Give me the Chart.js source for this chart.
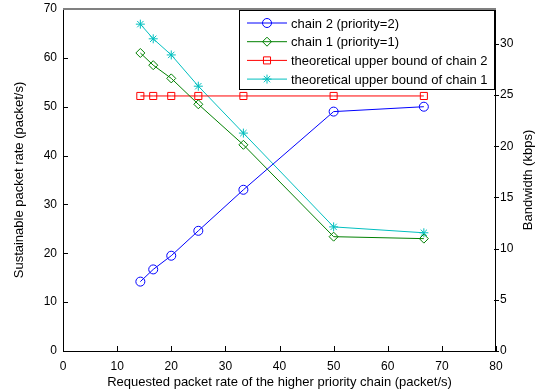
<!DOCTYPE html>
<html>
<head>
<meta charset="utf-8">
<script src="https://cdn.jsdelivr.net/npm/chart.js@4.4.1/dist/chart.umd.min.js"></script>
<style>
  body { margin: 0; background: #fff; }
  canvas { display: block; }
</style>
</head>
<body>
<canvas id="rateChart" width="541" height="391"></canvas>
<script>
// Data
const requestedRate = [14.29, 16.67, 20, 25, 33.33, 50, 66.67];
const chain2Rate = [14.2, 16.7, 19.5, 24.6, 33.0, 49.0, 50.0];
const chain1Rate = [61.0, 58.5, 55.8, 50.5, 42.2, 23.4, 23.0];
const bound2Rate = [52.2, 52.2, 52.2, 52.2, 52.2, 52.2, 52.2];
const bound1Rate = [66.9, 63.9, 60.6, 54.2, 44.6, 25.4, 24.2];

const seriesLabels = ['chain 2 (priority=2)', 'chain 1 (priority=1)',
  'theoretical upper bound of chain 2', 'theoretical upper bound of chain 1'];
const xTitle = 'Requested packet rate of the higher priority chain (packet/s)';
const yTitle = 'Sustainable packet rate (packet/s)';
const y1Title = 'Bandwidth (kbps)';

const colors = ['#0000ff', '#008000', '#ff0000', '#00bfbf'];
const markers = ['circle', 'rectRot', 'rect', 'star'];
const radii = [4.5, 4.5, 5, 4.5];

function pts(ys) {
  return requestedRate.map((x, i) => ({ x: x, y: ys[i] }));
}

Chart.defaults.font.family = '"Liberation Sans", Arial, sans-serif';
Chart.defaults.font.size = 12;
Chart.defaults.color = '#000';

function drawMarker(ctx, style, x, y, r) {
  ctx.beginPath();
  if (style === 'circle') {
    ctx.arc(x, y, r, 0, Math.PI * 2);
  } else if (style === 'rectRot') {
    ctx.moveTo(x, y - r); ctx.lineTo(x + r, y); ctx.lineTo(x, y + r); ctx.lineTo(x - r, y); ctx.closePath();
  } else if (style === 'rect') {
    const s = r * Math.SQRT1_2;
    ctx.rect(x - s, y - s, 2 * s, 2 * s);
  } else {
    const d = r * Math.SQRT1_2;
    ctx.moveTo(x - r, y); ctx.lineTo(x + r, y);
    ctx.moveTo(x, y - r); ctx.lineTo(x, y + r);
    ctx.moveTo(x - d, y - d); ctx.lineTo(x + d, y + d);
    ctx.moveTo(x - d, y + d); ctx.lineTo(x + d, y - d);
  }
  ctx.stroke();
}

// frame, inward ticks, boxed legend, right-hand title
const matlabLook = {
  id: 'matlabLook',
  afterDraw(chart) {
    const ctx = chart.ctx;
    const a = chart.chartArea;
    const sx = chart.scales.x, sy = chart.scales.y, sy1 = chart.scales.y1;
    ctx.save();
    ctx.lineWidth = 1;
    ctx.strokeStyle = '#000';
    ctx.beginPath();
    ctx.moveTo(a.left + 0.5, a.top); ctx.lineTo(a.left + 0.5, a.bottom + 0.5);
    ctx.lineTo(a.right - 0.5, a.bottom + 0.5); ctx.lineTo(a.right - 0.5, a.top);
    sx.ticks.forEach(t => {
      const px = Math.round(sx.getPixelForValue(t.value)) + 0.5;
      ctx.moveTo(px, a.bottom); ctx.lineTo(px, a.bottom - 5);
    });
    sy.ticks.forEach(t => {
      const py = Math.round(sy.getPixelForValue(t.value)) + 0.5;
      ctx.moveTo(a.left, py); ctx.lineTo(a.left + 5, py);
    });
    sy1.ticks.forEach(t => {
      const py = Math.round(sy1.getPixelForValue(t.value)) + 0.5;
      ctx.moveTo(a.right - 2, py); ctx.lineTo(a.right + 3, py);
    });
    ctx.stroke();
    ctx.strokeStyle = '#808080';
    ctx.lineWidth = 2;
    ctx.beginPath();
    ctx.moveTo(a.left, a.top); ctx.lineTo(a.right, a.top);
    ctx.stroke();

    // legend
    const bx = 239.5, by = 10.5, bw = 255, bh = 79;
    ctx.fillStyle = '#fff';
    ctx.fillRect(bx, by, bw, bh);
    ctx.strokeStyle = '#000';
    ctx.lineWidth = 1;
    ctx.strokeRect(bx, by, bw, bh);
    ctx.font = '13px "Liberation Sans", Arial, sans-serif';
    ctx.textBaseline = 'middle';
    ctx.textAlign = 'left';
    chart.data.datasets.forEach((ds, i) => {
      const ry = 23 + i * 18.7;
      ctx.strokeStyle = ds.borderColor;
      ctx.lineWidth = 1;
      ctx.beginPath();
      ctx.moveTo(247, ry); ctx.lineTo(287, ry);
      ctx.stroke();
      drawMarker(ctx, ds.pointStyle, 267, ry, ds.pointRadius);
      ctx.fillStyle = '#000';
      ctx.fillText(ds.label, 291, ry + 1);
    });

    // right axis title, reads bottom to top
    ctx.translate(528, (a.top + a.bottom) / 2);
    ctx.rotate(-Math.PI / 2);
    ctx.textAlign = 'center';
    ctx.fillStyle = '#000';
    ctx.fillText(y1Title, 0, 0);
    ctx.restore();
  }
};

const rateCtx = document.getElementById('rateChart').getContext('2d');
const series = [chain2Rate, chain1Rate, bound2Rate, bound1Rate];

const rateChart = new Chart(rateCtx, {
  type: 'line',
  data: {
    datasets: series.map((ys, i) => ({
      label: seriesLabels[i],
      data: pts(ys),
      borderColor: colors[i],
      backgroundColor: 'rgba(0,0,0,0)',
      borderWidth: 1,
      pointStyle: markers[i],
      pointRadius: radii[i],
      pointBorderWidth: 1,
      pointBackgroundColor: 'rgba(0,0,0,0)',
      tension: 0,
      fill: false
    }))
  },
  options: {
    responsive: false,
    animation: false,
    layout: { padding: { top: 9, left: 0, right: 0, bottom: 0 } },
    plugins: {
      legend: { display: false },
      tooltip: { enabled: false }
    },
    scales: {
      x: {
        type: 'linear',
        min: 0,
        max: 80,
        grid: { display: false, drawTicks: false },
        border: { display: false },
        ticks: { stepSize: 10, padding: 8, maxRotation: 0 },
        title: { display: true, text: xTitle, font: { size: 13 }, padding: { top: 0, bottom: 1 } },
        afterFit: s => { s.height = 40; }
      },
      y: {
        position: 'left',
        min: 0,
        max: 70,
        grid: { display: false, drawTicks: false },
        border: { display: false },
        ticks: { stepSize: 10, padding: 6, font: { lineHeight: 0.5 } },
        title: { display: true, text: yTitle, font: { size: 13 }, padding: { top: 12, bottom: 0 } },
        afterFit: s => { s.width = 63; }
      },
      y1: {
        position: 'right',
        min: 0,
        max: 33.4,
        grid: { display: false, drawTicks: false },
        border: { display: false },
        ticks: { stepSize: 5, padding: 4, includeBounds: false, font: { lineHeight: 0.5 } },
        afterFit: s => { s.width = 45; }
      }
    }
  },
  plugins: [matlabLook]
});
</script>
</body>
</html>
